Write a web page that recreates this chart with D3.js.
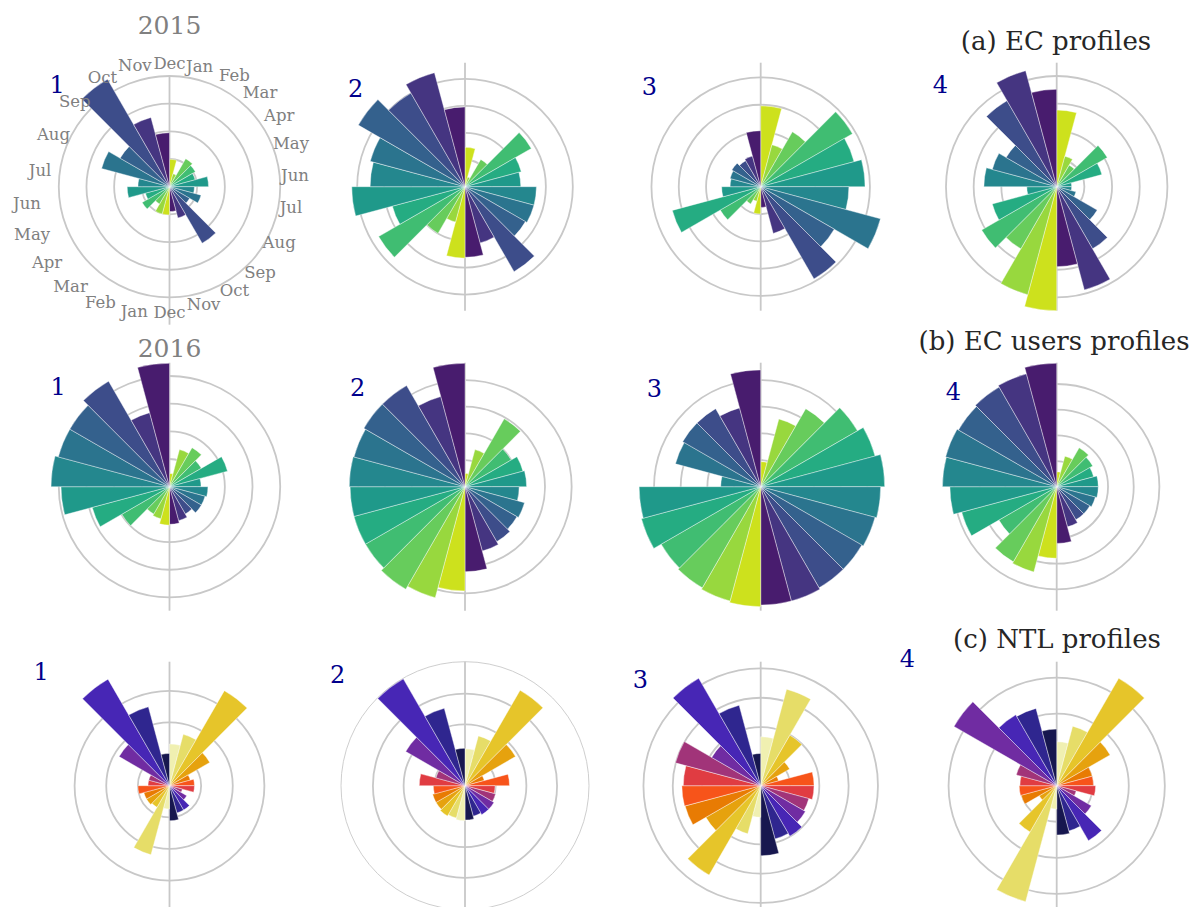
<!DOCTYPE html>
<html>
<head>
<meta charset="utf-8">
<script src="https://cdn.jsdelivr.net/npm/d3@7/dist/d3.min.js"></script>
<style>
  html, body { margin: 0; padding: 0; background: #ffffff; }
  svg { display: block; }
  text { font-family: "DejaVu Serif", "Liberation Serif", serif; }
</style>
</head>
<body>
<svg id="chart" width="1196" height="907"></svg>
<script>
// Monthly profiles over two years: bars 0-11 run clockwise down the right half
// (first year, Jan..Dec), bars 12-23 continue up the left half (second year).
const months = ["Jan", "Feb", "Mar", "Apr", "May", "Jun", "Jul", "Aug", "Sep", "Oct", "Nov", "Dec"];
const years = ["2015", "2016"];
const profileIds = ["1", "2", "3", "4"];
const rowTitles = ["(a) EC profiles", "(b) EC users profiles", "(c) NTL profiles"];

// Values are in units of the radial grid spacing.
// (a) EC profiles
const ec1 = [0.99, 0.48, 1.17, 1.08, 0.96, 1.41, 0.90, 1.18, 0.84, 2.36, 1.17, 0.90,
             1.02, 1.02, 0.72, 1.14, 0.90, 1.53, 1.14, 2.54, 2.06, 4.49, 2.59, 1.95];
const ec2 = [1.46, 0.37, 1.17, 2.84, 2.16, 2.07, 2.65, 2.65, 2.59, 3.64, 2.16, 2.62,
             2.65, 1.36, 2.00, 3.70, 2.79, 4.20, 3.52, 3.64, 4.57, 4.01, 4.38, 2.96];
const ec3 = [2.96, 1.59, 2.32, 3.88, 3.54, 3.82, 3.23, 4.54, 3.11, 3.90, 1.77, 0.76,
             1.00, 0.55, 0.73, 1.71, 3.35, 1.43, 1.12, 1.16, 1.22, 1.10, 1.16, 2.05];
const ec4 = [2.77, 1.14, 0.90, 2.11, 1.69, 0.54, 0.54, 0.72, 1.69, 2.59, 3.86, 2.89,
             4.52, 4.04, 2.59, 3.13, 2.41, 1.08, 2.63, 2.41, 2.11, 3.59, 4.34, 3.52];

// (b) EC users profiles
const users1 = [0.48, 1.39, 1.63, 1.33, 2.17, 1.14, 1.39, 1.33, 1.33, 1.14, 1.27, 1.36,
                1.39, 1.20, 1.14, 1.99, 2.89, 3.92, 4.28, 4.16, 4.16, 4.40, 2.77, 4.46];
const users2 = [0.50, 1.44, 2.94, 2.00, 2.25, 2.31, 2.03, 2.31, 2.25, 2.38, 2.50, 3.19,
                3.91, 4.31, 4.44, 4.31, 4.31, 4.31, 4.34, 4.31, 4.38, 4.38, 3.50, 4.63];
const users3 = [0.94, 2.63, 3.38, 4.19, 4.44, 4.66, 4.50, 4.44, 4.38, 4.38, 4.44, 4.44,
                4.50, 4.44, 4.38, 4.31, 4.63, 4.56, 1.50, 3.31, 3.38, 3.38, 3.06, 4.38];
const users4 = [0.58, 1.23, 1.75, 1.62, 1.49, 1.62, 1.62, 1.56, 1.49, 1.49, 1.62, 2.21,
                2.79, 3.44, 3.38, 2.60, 3.83, 4.16, 4.45, 4.48, 4.42, 4.48, 4.55, 4.81];

// (c) NTL profiles
const ntl1 = [1.32, 1.68, 3.47, 1.47, 0.68, 0.79, 0.79, 0.42, 0.63, 0.89, 0.89, 1.11,
              0.74, 2.26, 0.79, 0.84, 0.84, 1.00, 0.68, 0.68, 1.84, 3.89, 2.58, 1.02];
const ntl2 = [1.20, 1.68, 3.59, 1.90, 0.65, 1.45, 0.98, 1.03, 1.09, 1.09, 1.03, 1.12,
              1.14, 1.09, 1.14, 1.09, 1.09, 1.03, 1.49, 0.98, 2.23, 4.02, 2.61, 1.22];
const ntl3 = [1.67, 3.41, 1.99, 1.14, 0.63, 1.82, 1.82, 1.70, 1.76, 1.99, 1.88, 2.39,
              1.08, 1.70, 3.52, 2.16, 2.67, 2.69, 2.64, 3.01, 1.93, 4.23, 2.84, 1.10];
const ntl4 = [1.22, 1.71, 3.47, 1.71, 1.02, 1.02, 1.08, 0.56, 1.11, 1.76, 1.30, 1.37,
              0.65, 3.33, 1.48, 0.56, 1.02, 1.04, 1.02, 1.16, 3.29, 2.27, 2.22, 1.57];

// Radial axis limits and grid rings for each panel.
const ecLimits = [4.48, 4.60, 4.54, 4.48];
const usersLimits = [4.48, 4.65, 4.65, 4.83];
const ntlLimits = [3.92, 4.04, 4.23, 3.44];
const ecTicks = [[1, 2, 3, 4], [1, 2, 3, 4], [1, 2, 3, 4], [1, 2, 3, 4]];
const usersTicks = [[1, 2, 3, 4], [1, 2, 3, 4], [1, 2, 3, 4], [1, 2, 3, 4]];
const ntlTicks = [[1, 2, 3], [1, 2, 3], [1, 2, 3, 4], [1, 2, 3]];

// ---------------------------------------------------------------- layout
const W = 1196, H = 907;
const R = 124;                                  // polar axes radius in px
const colX = [169.5, 465, 760.7, 1056.7];
const rowY = [186.7, 486.7, 785.7];
// panel number offsets (left edge, baseline) relative to each panel centre
const idOffsets = [
  [[-120, -94], [-117, -90], [-119, -92], [-124, -94]],
  [[-119, -92], [-115, -91], [-114, -90], [-111, -87]],
  [[-136, -106], [-135, -103], [-128, -98], [-157, -119]]
];
const titlePos = [[1056, 50], [1054, 350], [1057, 648]];

const rows = [
  { series: [ec1, ec2, ec3, ec4], limits: ecLimits, ticks: ecTicks, palette: "viridis" },
  { series: [users1, users2, users3, users4], limits: usersLimits, ticks: usersTicks, palette: "viridis" },
  { series: [ntl1, ntl2, ntl3, ntl4], limits: ntlLimits, ticks: ntlTicks, palette: "cmr" }
];

// ---------------------------------------------------------------- colours
// Jan gets the light end of the map, Dec the dark end.
const monthT = m => (12 - m) / 13;
const cmrInterp = d3.piecewise(d3.interpolateRgb, [
  "#000000", "#262680", "#4d26bf", "#993380", "#ff4026",
  "#e68000", "#e6bf1a", "#e6e680", "#ffffff"
]);
const palettes = {
  viridis: m => d3.interpolateViridis(monthT(m)),
  cmr: m => cmrInterp(monthT(m))
};

// ---------------------------------------------------------------- drawing
const svg = d3.select("#chart");
svg.append("rect").attr("width", W).attr("height", H).attr("fill", "#ffffff");

const angle = d3.scaleBand().domain(d3.range(24)).range([0, 2 * Math.PI]);
const GRID = "#c8c8c8";
const deg = a => a * 180 / Math.PI;
// smooth bump between lo and hi degrees (0 outside)
const bump = (a, lo, hi) => (a <= lo || a >= hi) ? 0 : Math.sin(Math.PI * (a - lo) / (hi - lo));

// month label placement around the first panel (angle in radians at the bar's trailing edge)
function labelPos(a) {
  const d = deg(a);
  const s = Math.sin(a), c = Math.cos(a);
  const x = 134 * s - (d <= 270 ? 8.5 * s * s : 0) - 4 * bump(d, 0, 30);
  const y = 2 - 123 * c - 14 * s - 12 * bump(d, 290, 365) + 6 * bump(d, 110, 155);
  return [x, y];
}

rows.forEach((row, ri) => {
  row.series.forEach((values, ci) => {
    const g = svg.append("g")
      .attr("transform", `translate(${colX[ci]},${rowY[ri]})`);

    const r = d3.scaleLinear().domain([0, row.limits[ci]]).range([0, R]).clamp(true);
    const first = ri === 0 && ci === 0;

    // grid rings
    g.selectAll("circle.ring")
      .data(row.ticks[ci])
      .join("circle")
      .attr("class", "ring")
      .attr("r", d => r(d))
      .attr("fill", "none")
      .attr("stroke", GRID)
      .attr("stroke-width", 1.8);

    // outer frame is only visible on the second NTL panel
    if (ri === 2 && ci === 1) {
      g.append("circle").attr("r", R)
        .attr("fill", "none").attr("stroke", GRID).attr("stroke-width", 0.9);
    }

    // radial grid lines at 0 and 180 degrees; on the labelled panel the
    // upper one stops at the outer ring and the lower one runs past the labels
    const spokes = [
      { i: 0, len: first ? r(ecTicks[0][3]) : R },
      { i: 12, len: first ? R + 14 : R }
    ];
    g.selectAll("line.spoke")
      .data(spokes)
      .join("line")
      .attr("class", "spoke")
      .attr("x1", 0).attr("y1", 0)
      .attr("x2", d => d.len * Math.sin(angle(d.i)))
      .attr("y2", d => -d.len * Math.cos(angle(d.i)))
      .attr("stroke", GRID)
      .attr("stroke-width", 1.8);

    // bars
    const arc = d3.arc()
      .innerRadius(0)
      .outerRadius(d => r(d.v))
      .startAngle(d => angle(d.i))
      .endAngle(d => angle(d.i) + angle.bandwidth());

    g.selectAll("path.bar")
      .data(values.map((v, i) => ({ v, i })))
      .join("path")
      .attr("class", "bar")
      .attr("d", arc)
      .attr("fill", d => palettes[row.palette](d.i % 12))
      .attr("stroke", "#ffffff")
      .attr("stroke-width", 0.5)
      .attr("stroke-opacity", 0.8);

    // panel number
    g.append("text")
      .attr("x", idOffsets[ri][ci][0])
      .attr("y", idOffsets[ri][ci][1])
      .attr("fill", "#00008b")
      .attr("font-size", 24)
      .text(profileIds[ci]);

    // month labels and year captions on the first panel only
    if (first) {
      const labels = d3.range(24).map(i => ({ i, text: months[i % 12] }));
      g.selectAll("text.month")
        .data(labels)
        .join("text")
        .attr("class", "month")
        .attr("fill", "#808080")
        .attr("font-size", 16.5)
        .attr("text-anchor", "middle")
        .attr("x", d => labelPos(angle(d.i) + angle.bandwidth())[0])
        .attr("y", d => labelPos(angle(d.i) + angle.bandwidth())[1] + 6)
        .text(d => d.text);

      g.append("text")
        .attr("x", 0).attr("y", 34 - rowY[0])
        .attr("text-anchor", "middle")
        .attr("fill", "#808080")
        .attr("font-size", 25)
        .text(years[0]);

      g.append("text")
        .attr("x", 0).attr("y", 357 - rowY[0])
        .attr("text-anchor", "middle")
        .attr("fill", "#808080")
        .attr("font-size", 25)
        .text(years[1]);
    }
  });

  // row title
  svg.append("text")
    .attr("x", titlePos[ri][0])
    .attr("y", titlePos[ri][1])
    .attr("text-anchor", "middle")
    .attr("fill", "#262626")
    .attr("font-size", 26)
    .text(rowTitles[ri]);
});
</script>
</body>
</html>
